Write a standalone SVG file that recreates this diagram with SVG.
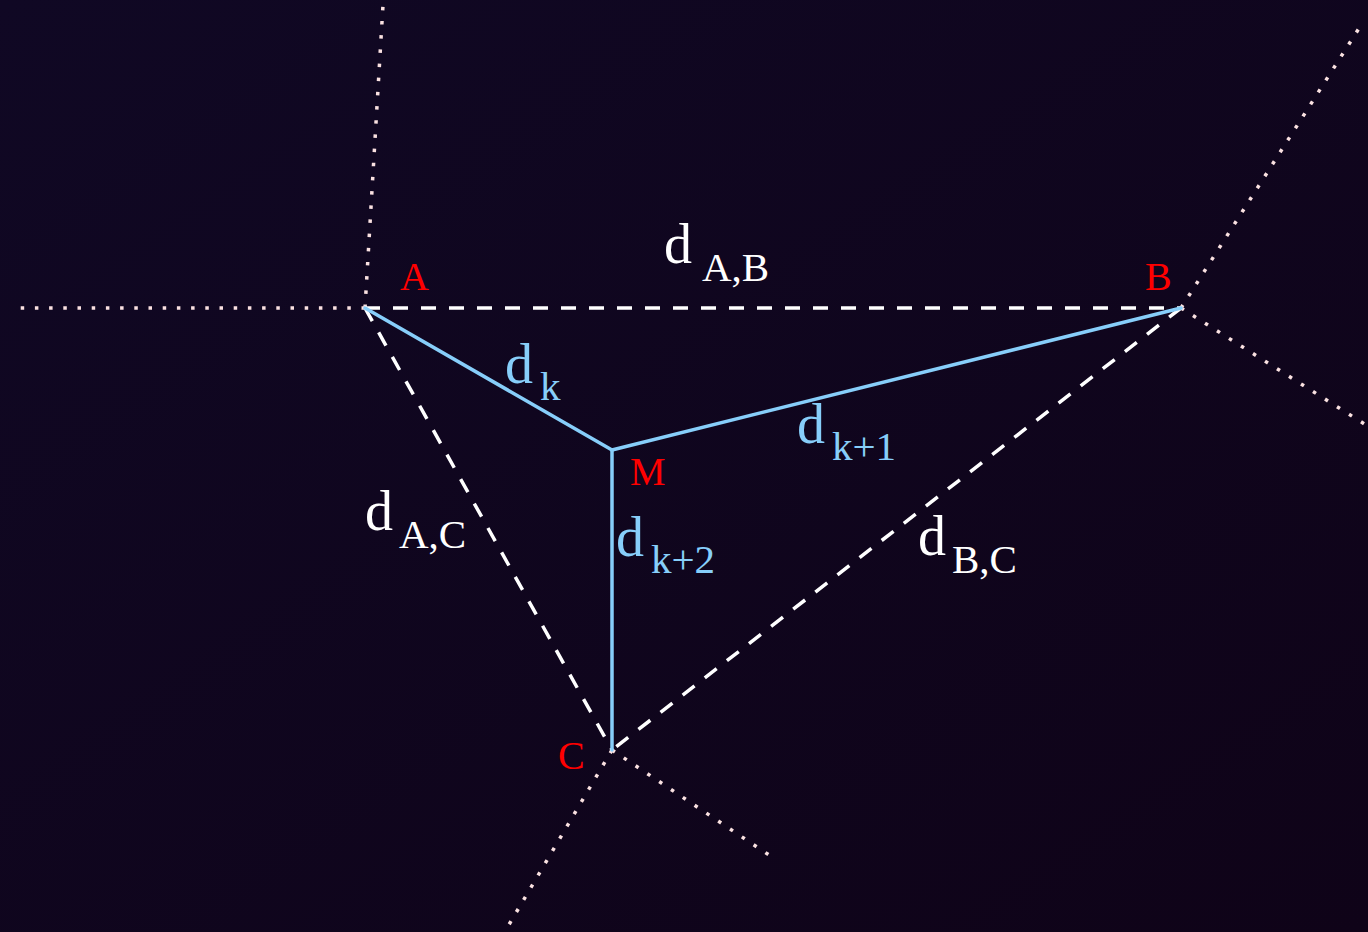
<svg xmlns="http://www.w3.org/2000/svg" width="1368" height="932" viewBox="0 0 1368 932">
  <defs>
    <linearGradient id="bg" x1="0" y1="0" x2="1" y2="1">
      <stop offset="0" stop-color="#100824"/>
      <stop offset="1" stop-color="#0f0318"/>
    </linearGradient>
    <style>
      .dot { stroke: #fbe2e2; stroke-width: 3.5; stroke-dasharray: 3.5 10.7; fill: none; }
      .dash { stroke: #ffffff; stroke-width: 3.5; stroke-dasharray: 15 13; fill: none; }
      .dist { stroke: #87cefa; stroke-width: 3.5; fill: none; stroke-linecap: round; }
      text { font-family: "Liberation Serif", "Times New Roman", serif; }
      .pt { fill: #ff0000; font-size: 40px; }
      .dw { fill: #ffffff; }
      .db { fill: #87cefa; }
      .big { font-size: 56px; }
      .sub { font-size: 41px; }
    </style>
  </defs>
  <rect width="1368" height="932" fill="url(#bg)"/>

  <g id="connectors">
    <g id="bisectors">
      <line class="dot" x1="365" y1="308" x2="383" y2="5"/>
      <line class="dot" x1="365" y1="308" x2="12" y2="308"/>
      <line class="dot" x1="1181" y1="308" x2="1363" y2="22"/>
      <line class="dot" x1="1181" y1="308" x2="1366" y2="425"/>
      <line class="dot" x1="612" y1="750" x2="507" y2="928"/>
      <line class="dot" x1="612" y1="750" x2="772" y2="857"/>
    </g>
    <g id="sides">
      <line class="dash" x1="365" y1="308" x2="1181" y2="308"/>
      <line class="dash" x1="365" y1="308" x2="612" y2="750"/>
      <line class="dash" x1="1181" y1="308" x2="612" y2="750"/>
    </g>
    <g id="distances">
      <line class="dist" x1="612" y1="450" x2="365" y2="308"/>
      <line class="dist" x1="612" y1="450" x2="1181" y2="308"/>
      <line class="dist" x1="612" y1="450" x2="612" y2="750"/>
    </g>
  </g>

  <g id="node-A"><text class="pt" x="400" y="290">A</text></g>
  <g id="node-B"><text class="pt" x="1145" y="290">B</text></g>
  <g id="node-C"><text class="pt" x="558" y="769">C</text></g>
  <g id="node-M"><text class="pt" x="630" y="485">M</text></g>

  <g id="label-dAB" class="dw"><text class="big" x="664" y="263">d</text><text class="sub" x="702" y="281">A,B</text></g>
  <g id="label-dAC" class="dw"><text class="big" x="365" y="530">d</text><text class="sub" x="399" y="548">A,C</text></g>
  <g id="label-dBC" class="dw"><text class="big" x="918" y="555">d</text><text class="sub" x="952" y="573">B,C</text></g>
  <g id="label-dk" class="db"><text class="big" x="505" y="383">d</text><text class="sub" x="540" y="400">k</text></g>
  <g id="label-dk1" class="db"><text class="big" x="797" y="443">d</text><text class="sub" x="832" y="460">k+1</text></g>
  <g id="label-dk2" class="db"><text class="big" x="616" y="556">d</text><text class="sub" x="651" y="573">k+2</text></g>
</svg>
